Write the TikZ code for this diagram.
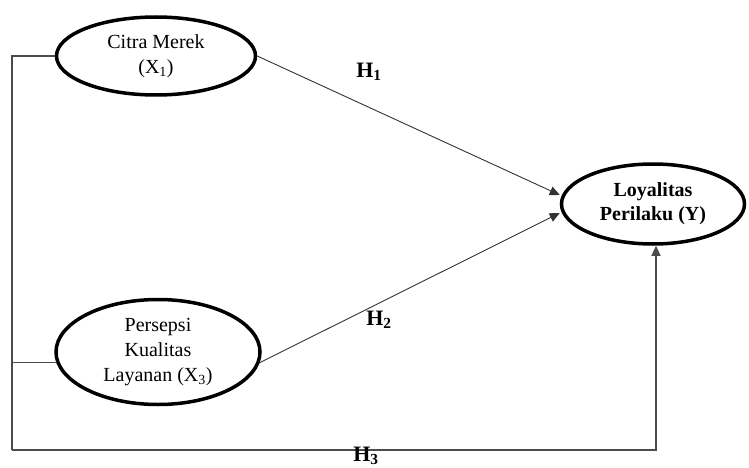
\documentclass[tikz,border=0pt]{standalone}
\usepackage{fontspec}
\setmainfont{Liberation Serif}
\usetikzlibrary{shapes.geometric,arrows.meta}
\begin{document}
\begin{tikzpicture}[x=1pt,y=-1pt,
  latent/.style={ellipse,draw=black,line width=3.5pt,inner sep=0pt,align=center,
    font=\fontsize{20}{25}\selectfont},
  conn/.style={line width=0.9pt,draw=black!80},
  side/.style={line width=1.3pt,draw=black!70},
  tip/.style={-{Triangle[length=10pt,width=9pt]}},
  hlab/.style={font=\fontsize{22}{24}\selectfont\bfseries}]
\useasboundingbox (0,0) rectangle (749,468);
\node[latent,minimum width=199pt,minimum height=78pt] (e1) at (156,56) {Citra Merek\\(X\textsubscript{1})};
\node[latent,minimum width=204pt,minimum height=105pt] (e2) at (158,352) {Persepsi\\Kualitas\\Layanan (X\textsubscript{3})};
\node[latent,minimum width=183pt,minimum height=80pt,font=\fontsize{20}{24}\selectfont\bfseries] (ey) at (653,204) {Loyalitas\\Perilaku (Y)};
\coordinate (c) at (12,450);
\draw[conn,tip] (e1.east) -- ([yshift=9pt]ey.west);
\draw[conn,tip] (e2.-6) -- ([yshift=-9pt]ey.west);
\draw[side] (e1.west) -| (c);
\draw[side] (e2.186) -- (e2.186 -| c);
\draw[side,tip] (c) -| ([xshift=3pt]ey.south);
\node[hlab] (h1) at (369,72) {H\textsubscript{1}};
\node[hlab] (h2) at (379,320) {H\textsubscript{2}};
\node[hlab] (h3) at (366,456) {H\textsubscript{3}};
\end{tikzpicture}
\end{document}
